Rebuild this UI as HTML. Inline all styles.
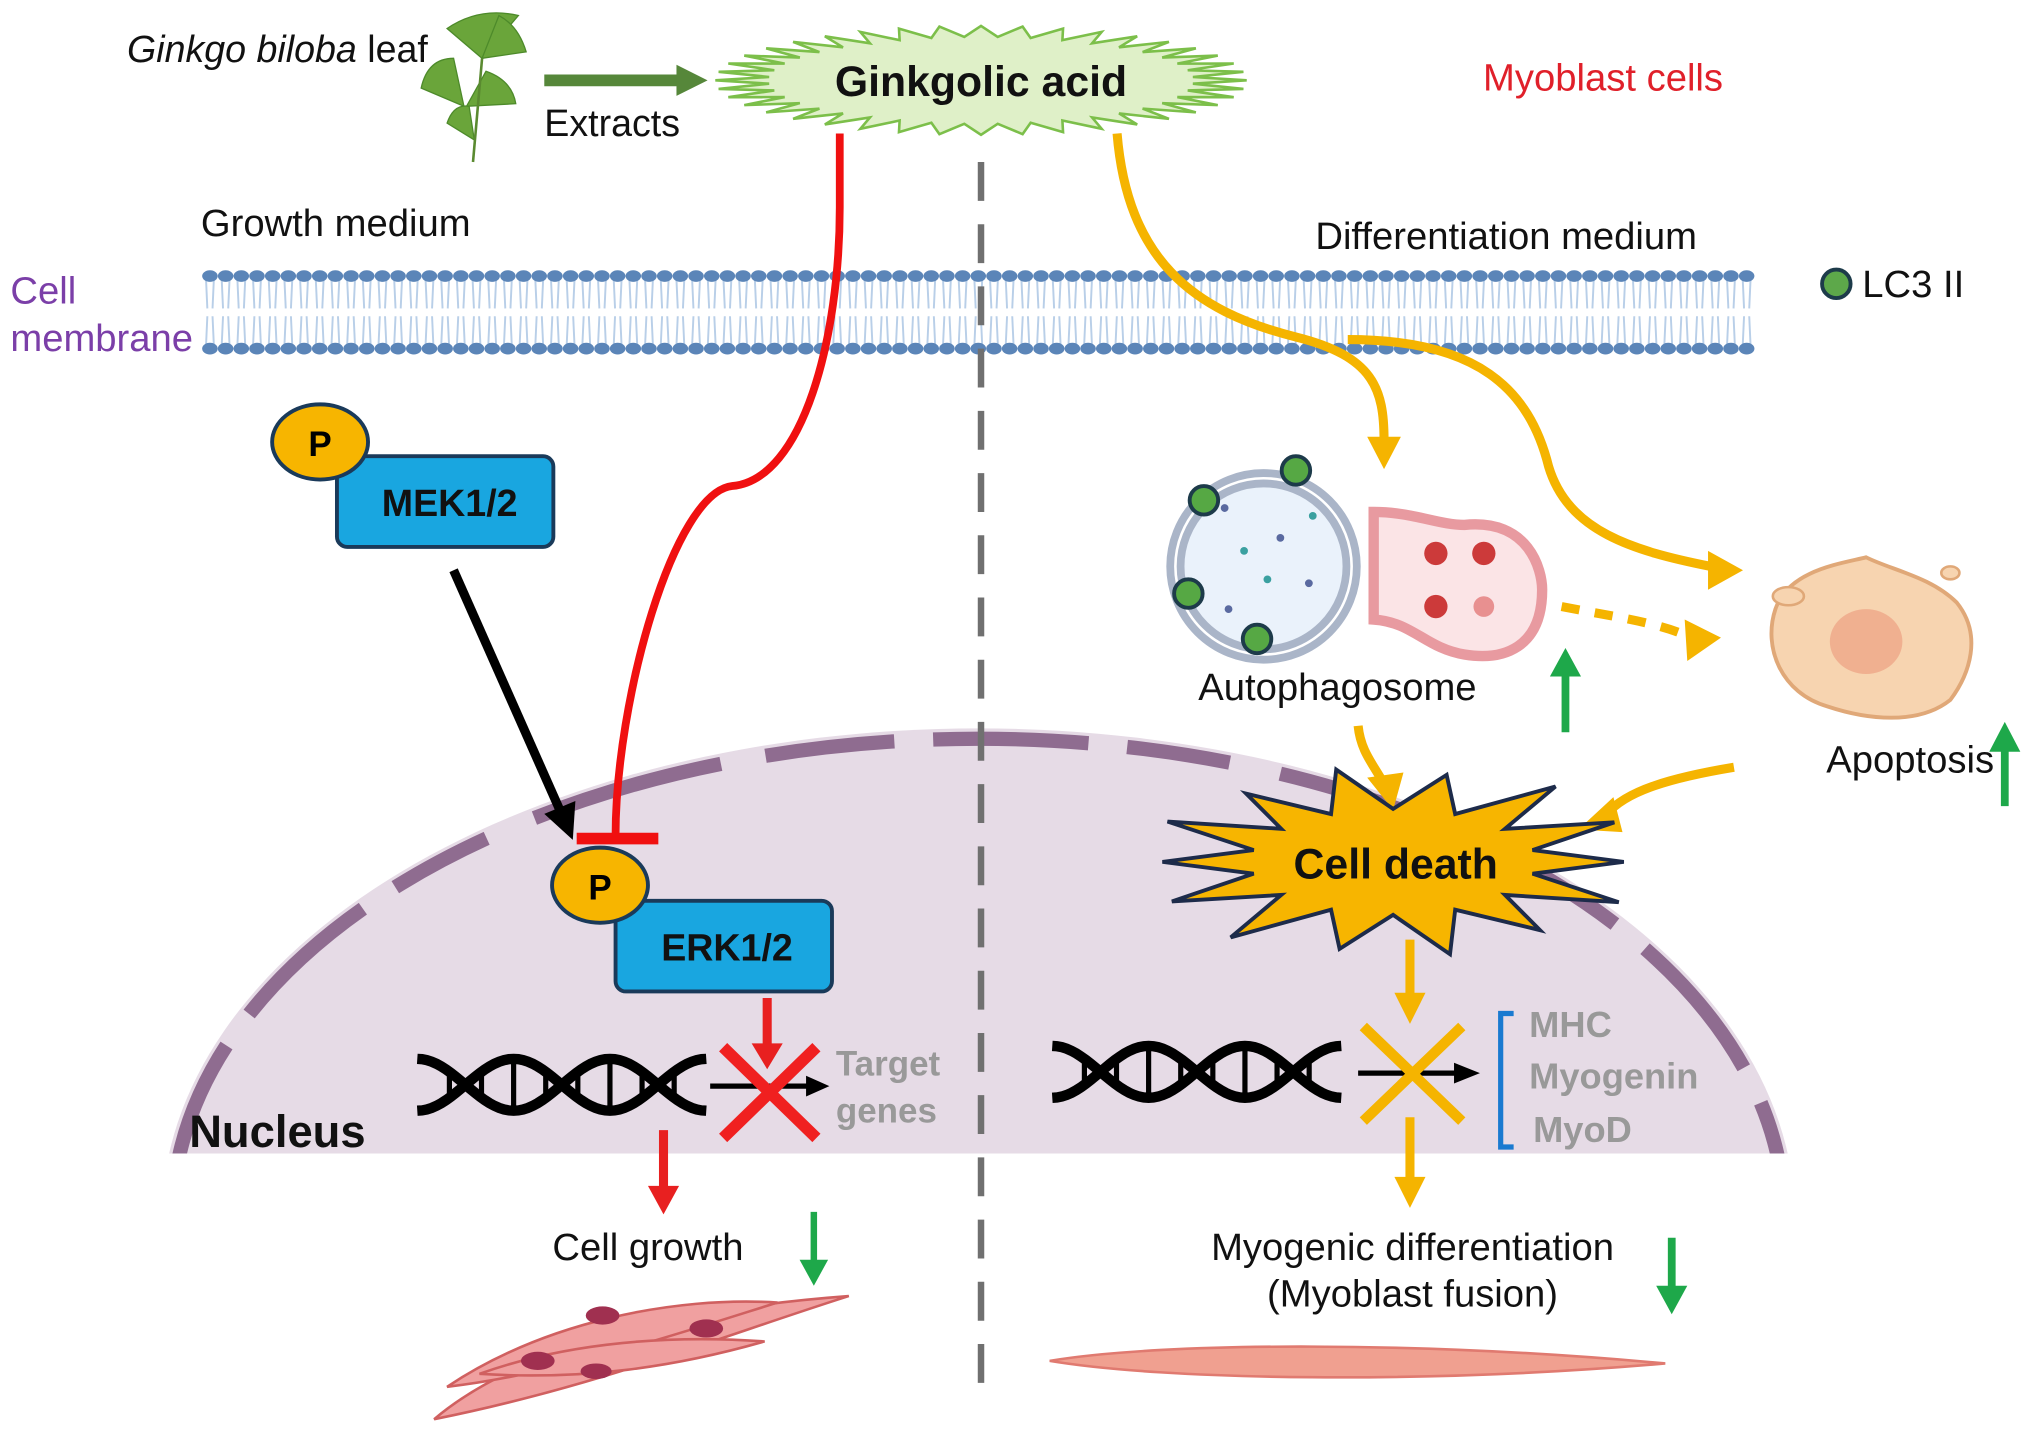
<!DOCTYPE html>
<html><head><meta charset="utf-8"><style>
html,body{margin:0;padding:0;background:#fff;overflow:hidden;width:2032px;height:1449px;}
svg{display:block;}
text{font-family:"Liberation Sans",Arial,sans-serif;}
</style></head><body>
<svg id="s" width="2032" height="1449" viewBox="0 0 1568 1118" preserveAspectRatio="none" xmlns="http://www.w3.org/2000/svg">
<defs>
<clipPath id="nc"><rect x="0" y="0" width="1568" height="890"/></clipPath>
</defs>
<g clip-path="url(#nc)">
<ellipse cx="755" cy="940" rx="630" ry="378" fill="#e6dbe6"/>
<ellipse cx="755" cy="940" rx="622" ry="370" fill="none" stroke="#8f6c90" stroke-width="11" stroke-dasharray="120 30 80 40 150 35 100 30"/>
</g>
<g id="mem"></g>
<line x1="757" y1="125" x2="757" y2="1075" stroke="#707070" stroke-width="5" stroke-dasharray="30 18"/>
<text x="98" y="48" font-size="29" fill="#111"><tspan font-style="italic">Ginkgo biloba</tspan> leaf</text>
<g fill="#6aa53a" stroke="#4d8a2a" stroke-width="1">
<path d="M372,45 L345,22 Q370,5 400,12 Z"/><path d="M372,45 L385,12 Q400,20 406,40 Z"/>
<path d="M358,82 L325,68 Q330,45 350,45 Z"/><path d="M360,82 L375,55 Q395,62 398,80 Z"/>
<path d="M366,108 L345,95 Q350,80 362,82 Z"/>
</g>
<path d="M372,45 L365,125" stroke="#5a8a30" stroke-width="2" fill="none"/>
<path d="M420,62 L525,62" stroke="#56873a" stroke-width="9"/>
<path d="M522,50 L546,62 L522,74 Z" fill="#56873a"/>
<text x="420" y="105" font-size="29" fill="#111">Extracts</text>
<polygon id="ga" fill="#dff0c8" stroke="#7cbf4a" stroke-width="2"/>
<text x="757" y="74" font-size="33" font-weight="bold" text-anchor="middle" fill="#111">Ginkgolic acid</text>
<text x="1237" y="70" font-size="29.5" text-anchor="middle" fill="#e0202a">Myoblast cells</text>
<text x="155" y="182" font-size="29.5" fill="#111">Growth medium</text>
<text x="1015" y="192" font-size="29.5" fill="#111">Differentiation medium</text>
<text x="8" y="234" font-size="29.5" fill="#7b3fa8">Cell</text>
<text x="8" y="271" font-size="29.5" fill="#7b3fa8">membrane</text>
<circle cx="1417" cy="219" r="11" fill="#5da84a" stroke="#1d3b4a" stroke-width="3"/>
<text x="1437" y="229" font-size="29.5" fill="#111">LC3 II</text>
<rect x="260" y="352" width="167" height="70" rx="8" fill="#19a6e0" stroke="#1a3a5a" stroke-width="3"/>
<text x="347" y="398" font-size="29" font-weight="bold" text-anchor="middle" fill="#111">MEK1/2</text>
<ellipse cx="247" cy="341" rx="37" ry="29" fill="#f7b500" stroke="#1a3a5a" stroke-width="3"/>
<text x="247" y="352" font-size="27" font-weight="bold" text-anchor="middle">P</text>
<path d="M350,440 L432,625" stroke="#000" stroke-width="7"/>
<path d="M420,628 L442,648 L444,618 Z" fill="#000"/>
<path d="M648,103 L648,160 C648,260 620,370 565,375 C520,380 475,540 475,645" fill="none" stroke="#f01010" stroke-width="6"/>
<path d="M445,647 L508,647" stroke="#f01010" stroke-width="9"/>
<rect x="475" y="695" width="167" height="70" rx="8" fill="#19a6e0" stroke="#1a3a5a" stroke-width="3"/>
<text x="561" y="741" font-size="29" font-weight="bold" text-anchor="middle" fill="#111">ERK1/2</text>
<ellipse cx="463" cy="683" rx="37" ry="29" fill="#f7b500" stroke="#1a3a5a" stroke-width="3"/>
<text x="463" y="694" font-size="27" font-weight="bold" text-anchor="middle">P</text>
<path d="M592,770 L592,808" stroke="#e82020" stroke-width="7"/><path d="M580,805 L592,825 L604,805 Z" fill="#e82020"/>
<g id="dna1"></g>
<path d="M548,838 L625,838" stroke="#000" stroke-width="4"/><path d="M622,830 L640,838 L622,846 Z" fill="#000"/>
<path d="M558,808 L630,878 M630,808 L558,878" stroke="#f02020" stroke-width="9"/>
<text x="645" y="830" font-size="27" font-weight="bold" fill="#999">Target</text>
<text x="645" y="866" font-size="27" font-weight="bold" fill="#999">genes</text>
<text x="146" y="885" font-size="35" font-weight="bold" fill="#111">Nucleus</text>
<path d="M512,872 L512,918" stroke="#e82020" stroke-width="7"/><path d="M500,915 L512,937 L524,915 Z" fill="#e82020"/>
<text x="500" y="972" font-size="29.5" text-anchor="middle" fill="#111">Cell growth</text>
<path d="M628,935 L628,975" stroke="#1ea84a" stroke-width="5"/><path d="M617,972 L628,992 L639,972 Z" fill="#1ea84a"/>
<g fill="#f0a0a0" stroke="#d06060" stroke-width="2">
<path d="M335,1095 C400,1040 520,1010 655,1000 C560,1030 460,1070 335,1095 Z"/>
<path d="M345,1070 C420,1020 520,1000 600,1005 C520,1030 430,1060 345,1070 Z"/>
<path d="M370,1060 C440,1035 520,1030 590,1035 C520,1055 450,1065 370,1060 Z"/>
</g>
<g fill="#a03050"><ellipse cx="465" cy="1015" rx="13" ry="7"/><ellipse cx="545" cy="1025" rx="13" ry="7"/><ellipse cx="415" cy="1050" rx="13" ry="7"/><ellipse cx="460" cy="1058" rx="12" ry="6"/></g>
<g fill="none" stroke="#f5b400" stroke-width="7">
<path d="M862,103 C870,200 920,240 1000,260 C1060,275 1068,300 1068,340"/>
<path d="M1040,262 C1140,262 1180,300 1195,360 C1210,410 1260,425 1320,437"/>
<path d="M1205,468 C1240,475 1280,480 1305,492" stroke-dasharray="14 12"/>
<path d="M1048,560 C1050,580 1060,590 1068,605"/>
<path d="M1338,592 C1290,600 1255,610 1240,628"/>
<path d="M1088,725 L1088,770"/>
<path d="M1088,862 L1088,912"/>
</g>
<g fill="#f5b400">
<path d="M1055,337 L1068,362 L1081,337 Z"/>
<path d="M1318,425 L1345,440 L1318,455 Z"/>
<path d="M1300,478 L1328,492 L1302,510 Z"/>
<path d="M1055,600 L1075,625 L1083,596 Z"/>
<path d="M1245,615 L1218,640 L1252,642 Z"/>
<path d="M1076,766 L1088,790 L1100,766 Z"/>
<path d="M1076,908 L1088,932 L1100,908 Z"/>
</g>
<path d="M1060,395 C1090,395 1110,405 1130,405 C1180,400 1190,440 1190,455 C1190,500 1160,510 1130,505 C1100,500 1090,480 1060,478 Z" fill="#fbe4e6" stroke="#e89aa0" stroke-width="8"/>
<circle cx="975" cy="437" r="68" fill="#eaf2fb" stroke="#aab5c8" stroke-width="14"/>
<circle cx="975" cy="437" r="68" fill="none" stroke="#fff" stroke-width="2"/>
<g fill="#cc3a3a"><circle cx="1108" cy="427" r="9"/><circle cx="1145" cy="427" r="9"/><circle cx="1108" cy="468" r="9"/><circle cx="1145" cy="468" r="8" fill="#e89090"/></g>
<g fill="#5a6aa0"><circle cx="945" cy="392" r="3"/><circle cx="988" cy="415" r="3"/><circle cx="1010" cy="450" r="3"/><circle cx="948" cy="470" r="3"/></g>
<g fill="#3aa0a0"><circle cx="1013" cy="398" r="3"/><circle cx="960" cy="425" r="3"/><circle cx="978" cy="447" r="3"/></g>
<g fill="#56a844" stroke="#1d3b4a" stroke-width="3"><circle cx="929" cy="386" r="11"/><circle cx="1000" cy="363" r="11"/><circle cx="917" cy="458" r="11"/><circle cx="970" cy="493" r="11"/></g>
<text x="1032" y="540" font-size="29.5" text-anchor="middle" fill="#111">Autophagosome</text>
<path d="M1208,520 L1208,565" stroke="#1ea84a" stroke-width="6"/><path d="M1196,522 L1208,500 L1220,522 Z" fill="#1ea84a"/>
<path d="M1370,470 C1380,440 1420,435 1440,430 C1460,440 1490,445 1510,465 C1530,490 1520,520 1505,540 C1480,560 1440,555 1410,545 C1375,535 1360,500 1370,470 Z" fill="#f7d4b0" stroke="#e0a878" stroke-width="3"/>
<ellipse cx="1440" cy="495" rx="28" ry="25" fill="#f0b090"/>
<ellipse cx="1380" cy="460" rx="12" ry="7" fill="#f7d4b0" stroke="#e0a878" stroke-width="2"/>
<ellipse cx="1505" cy="442" rx="7" ry="5" fill="#f7d4b0" stroke="#e0a878" stroke-width="2"/>
<text x="1474" y="596" font-size="29.5" text-anchor="middle" fill="#111">Apoptosis</text>
<path d="M1547,578 L1547,622" stroke="#1ea84a" stroke-width="6"/><path d="M1535,580 L1547,557 L1559,580 Z" fill="#1ea84a"/>
<polygon id="cd" fill="#f7b500" stroke="#1d2b4a" stroke-width="3"/>
<text x="1077" y="678" font-size="33" font-weight="bold" text-anchor="middle" fill="#111">Cell death</text>
<g id="dna2"></g>
<path d="M1048,828 L1125,828" stroke="#000" stroke-width="4"/><path d="M1122,820 L1142,828 L1122,836 Z" fill="#000"/>
<path d="M1052,792 L1128,865 M1128,792 L1052,865" stroke="#f5b400" stroke-width="8"/>
<path d="M1168,782 L1158,782 L1158,885 L1168,885" fill="none" stroke="#1a7ad0" stroke-width="4"/>
<text x="1180" y="800" font-size="28" font-weight="bold" fill="#999">MHC</text>
<text x="1180" y="840" font-size="28" font-weight="bold" fill="#999">Myogenin</text>
<text x="1183" y="881" font-size="28" font-weight="bold" fill="#999">MyoD</text>
<text x="1090" y="972" font-size="29.5" text-anchor="middle" fill="#111">Myogenic differentiation</text>
<text x="1090" y="1008" font-size="29.5" text-anchor="middle" fill="#111">(Myoblast fusion)</text>
<path d="M1290,955 L1290,995" stroke="#1ea84a" stroke-width="6"/><path d="M1278,992 L1290,1014 L1302,992 Z" fill="#1ea84a"/>
<path d="M810,1050 C900,1035 1100,1035 1285,1052 C1100,1068 900,1065 810,1050 Z" fill="#f0a090" stroke="#e07a70" stroke-width="2"/>
</svg>
<script>
var NS="http://www.w3.org/2000/svg";
function el(p,t,a){var e=document.createElementNS(NS,t);for(var k in a)e.setAttribute(k,a[k]);p.appendChild(e);return e;}
var m=document.getElementById('mem');
for(var x=162;x<=1348;x+=12.1){
 el(m,'path',{d:'M'+(x-3)+',216 L'+(x-2)+',238 M'+(x+3)+',216 L'+(x+2)+',238 M'+(x-2)+',244 L'+(x-3)+',266 M'+(x+2)+',244 L'+(x+3)+',266',stroke:'#b9cfe8','stroke-width':1.5,fill:'none'});
 el(m,'ellipse',{cx:x,cy:213,rx:6,ry:4.5,fill:'#5b85b8'});
 el(m,'ellipse',{cx:x,cy:269,rx:6,ry:4.5,fill:'#5b85b8'});
}
function star(id,cx,cy,rx,ry,n,inner,jit){
 var pts=[];for(var i=0;i<n*2;i++){var a=Math.PI*i/n;var r=(i%2==0)?1+(jit?((i*37)%7)/7*jit:0):inner;pts.push((cx+rx*r*Math.cos(a)).toFixed(1)+','+(cy+ry*r*Math.sin(a)).toFixed(1));}
 document.getElementById(id).setAttribute('points',pts.join(' '));
}
star('ga',757,62,205,42,40,0.8,0);
star('cd',1075,665,178,66,14,0.62,0.15);
function dna(id,x0,x1,y){
 var g=document.getElementById(id);var w=x1-x0;var p1='',p2='';
 var per=1.5;
 for(var i=0;i<=60;i++){var x=x0+w*i/60;var s=Math.cos(i/60*Math.PI*2*per);p1+=(i?'L':'M')+x+','+(y+s*20);p2+=(i?'L':'M')+x+','+(y-s*20);}
 for(var j=1;j<9;j++){var xx=x0+w*j/9;var c=Math.abs(Math.cos(j/9*Math.PI*2*per))*18;if(c>6)el(g,'line',{x1:xx,x2:xx,y1:y-c,y2:y+c,stroke:'#000','stroke-width':4});}
 el(g,'path',{d:p1,stroke:'#000','stroke-width':8,fill:'none'});el(g,'path',{d:p2,stroke:'#000','stroke-width':8,fill:'none'});
}
dna('dna1',322,545,837);
dna('dna2',812,1035,827);
</script>
</body></html>
